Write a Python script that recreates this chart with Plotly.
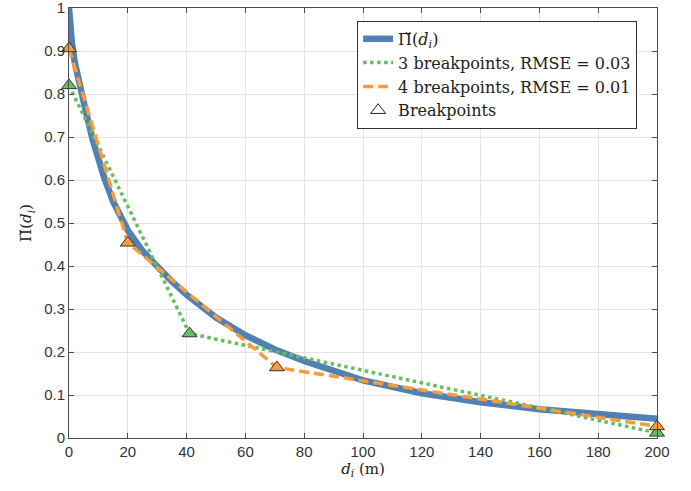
import plotly.graph_objects as go

# Continuous curve
d_curve = [0, 0.5, 1, 2, 3, 4, 6, 8, 10, 12, 15, 20, 25, 30, 35, 40, 45, 50,
           60, 70, 80, 90, 100, 120, 140, 160, 180, 200]
pi_curve = [1.0, 0.95, 0.918, 0.872, 0.838, 0.808, 0.752, 0.695, 0.648, 0.605, 0.55,
            0.483, 0.435, 0.397, 0.364, 0.333, 0.305, 0.28, 0.239, 0.206, 0.179,
            0.155, 0.134, 0.104, 0.083, 0.067, 0.055, 0.045]

# 3 breakpoints fit
d_bp3 = [0, 41, 200]
pi_bp3 = [0.82, 0.243, 0.012]

# 4 breakpoints fit
d_bp4 = [0, 20, 70.7, 200]
pi_bp4 = [0.906, 0.454, 0.164, 0.027]

x_ticks = list(range(0, 201, 20))
y_ticks = [0, 0.1, 0.2, 0.3, 0.4, 0.5, 0.6, 0.7, 0.8, 0.9, 1]
y_tick_labels = ["0", "0.1", "0.2", "0.3", "0.4", "0.5", "0.6", "0.7", "0.8", "0.9", "1"]

BLUE = "#4f81b2"
GREEN = "#66bf5e"
ORANGE = "#fd9a3c"
SERIF = "DejaVu Serif"

fig = go.Figure()
fig.add_trace(go.Scatter(x=d_curve, y=pi_curve, mode="lines",
                         line=dict(color=BLUE, width=6.5),
                         name="Π̌(<i>d<sub>i</sub></i>)"))
fig.add_trace(go.Scatter(x=d_bp3, y=pi_bp3, mode="lines",
                         line=dict(color=GREEN, width=3.5, dash="dot"),
                         name="3 breakpoints, RMSE = 0.03"))
fig.add_trace(go.Scatter(x=d_bp4, y=pi_bp4, mode="lines",
                         line=dict(color=ORANGE, width=3.5, dash="10px,5px"),
                         name="4 breakpoints, RMSE = 0.01"))
fig.add_trace(go.Scatter(x=d_bp3, y=pi_bp3, mode="markers", showlegend=False,
                         marker=dict(symbol="triangle-up", size=13, color=GREEN,
                                     line=dict(color="#333333", width=1)), cliponaxis=False))
fig.add_trace(go.Scatter(x=d_bp4, y=pi_bp4, mode="markers", showlegend=False,
                         marker=dict(symbol="triangle-up", size=13, color=ORANGE,
                                     line=dict(color="#333333", width=1)), cliponaxis=False))
fig.add_trace(go.Scatter(x=[None], y=[None], mode="markers", name="Breakpoints",
                         marker=dict(symbol="triangle-up", size=13, color="white",
                                     line=dict(color="#222222", width=1))))

axis_common = dict(showline=True, linecolor="#4d4d4d", linewidth=1, mirror="ticks",
                   ticks="inside", ticklen=5, tickcolor="#4d4d4d",
                   showgrid=True, gridcolor="#e3e3e3", gridwidth=1, zeroline=False,
                   automargin=False, ticklabeloverflow="allow",
                   tickfont=dict(family="Liberation Sans", size=15, color="#333333"))

fig.update_xaxes(range=[0, 200], tickvals=x_ticks,
                 title=dict(text="<i>d<sub>i</sub></i> (m)", font=dict(family=SERIF, size=15, color="#222222"),
                            standoff=4),
                 **axis_common)
fig.update_yaxes(range=[0, 1], tickvals=y_ticks, ticktext=y_tick_labels,
                 title=dict(text="Π̌(<i>d<sub>i</sub></i>)", font=dict(family=SERIF, size=15, color="#222222"),
                            standoff=8),
                 **axis_common)

fig.update_layout(width=691, height=491, margin=dict(l=69, r=34, t=8, b=53),
                  plot_bgcolor="white", paper_bgcolor="white",
                  legend=dict(x=0.49, y=0.97, xanchor="left", yanchor="top",
                              bgcolor="white", bordercolor="#333333", borderwidth=1,
                              font=dict(family=SERIF, size=16, color="#222222"),
                              tracegroupgap=0, itemwidth=30))

fig.write_html("out.html", config={"displayModeBar": False},
               post_script="document.body.style.margin='0px';")
